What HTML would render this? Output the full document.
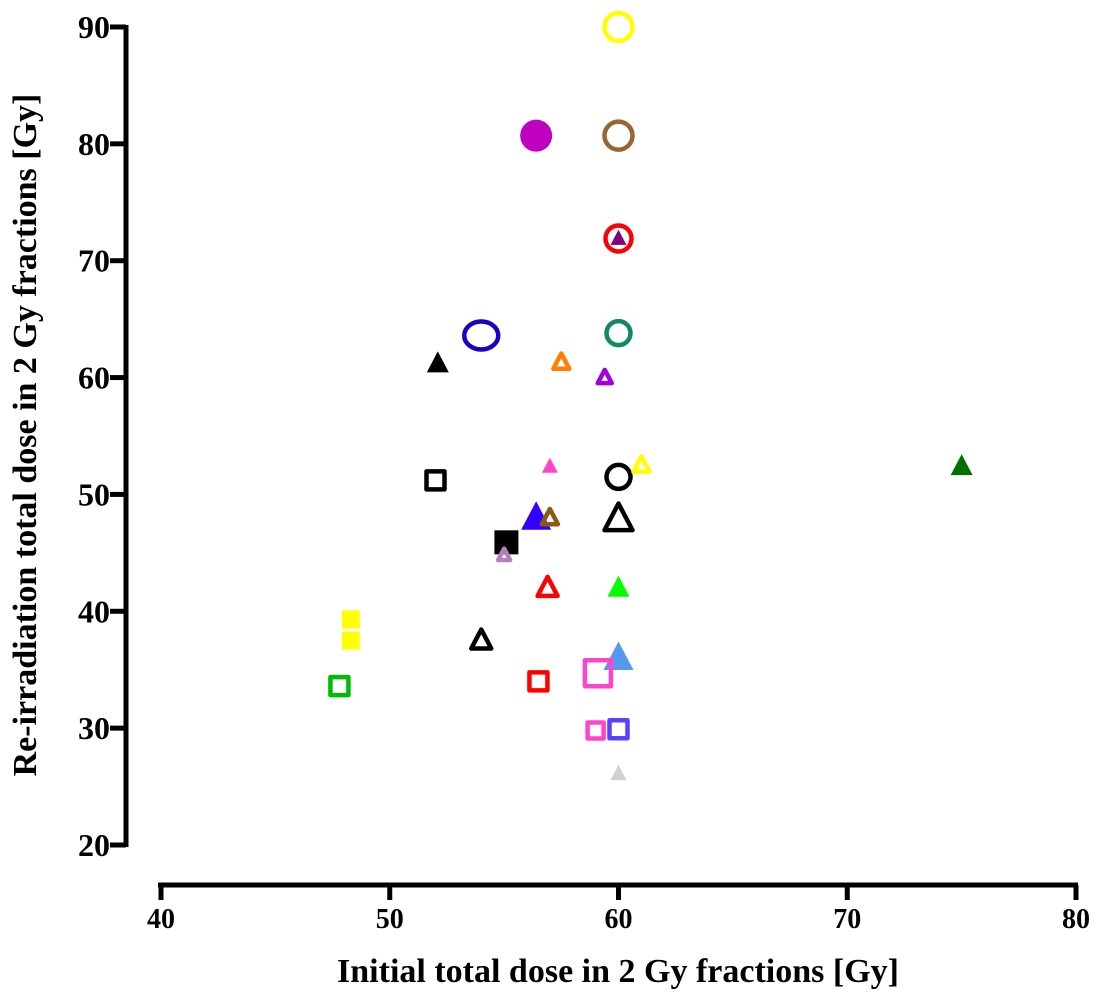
<!DOCTYPE html>
<html><head><meta charset="utf-8"><style>
body{margin:0;background:#fff}
svg{display:block;font-family:"Liberation Serif",serif;font-weight:bold}
</style></head><body>
<svg id="c" width="1099" height="1000"></svg>
<script>
const xValues=[60,56.4,60,60,60,60,54.0,52.1,57.5,59.4,52.0,57.0,60,61.0,75.0,56.4,57.0,60,55.1,55.0,56.9,60,48.3,48.3,54.0,60,59.1,56.5,47.8,59.0,60,60];
const yValues=[90,80.7,80.7,71.9,71.9,63.8,63.6,61.2,61.3,60.0,51.2,52.4,51.5,52.5,52.4,48.0,48.0,47.9,45.9,44.8,42.0,42.0,39.3,37.5,37.5,36.0,34.7,34.0,33.6,29.8,29.9,26.1];
const shapes=["oc","fc","oc","oc","ft","oc","oe","ft","ot","ot","os","ft","oc","ot","ft","ft","ot","ot","fs","ot","ot","ft","fs","fs","ot","ft","os","os","os","os","os","ft"];
const colors=["#ffff00","#c000c0","#996633","#ff0000","#800080","#118866","#1a00c0","#000","#ff8000","#a000e0","#000","#ff44cc","#000","#ffff00","#007000","#3300ff","#8a5a10","#000","#000","#b080c0","#ff0000","#00ff00","#ffff00","#ffff00","#000","#5599ee","#ff44cc","#ff0000","#00bb00","#ff44cc","#5544ff","#d0d0d0"];
const sizes=[16,16,16,15,8,14,17,11,10,9,11,8,14,10,11,15,10,16,12,8,12,11,9,9,12,15,15,11,11,10,11,8];
const xTicks=[40,50,60,70,80];
const yTicks=[20,30,40,50,60,70,80,90];
const X=v=>161+(v-40)*22.875, Y=v=>845-(v-20)*11.686;
const svg=document.getElementById('c'),NS="http://www.w3.org/2000/svg";
function mk(t,a,p){const e=document.createElementNS(NS,t);for(const k in a)e.setAttribute(k,a[k]);(p||svg).appendChild(e);return e;}
let e;
e=mk('line',{x1:126,y1:25,x2:126,y2:847,stroke:'#000','stroke-width':5});


e=mk('line',{x1:158,y1:885,x2:1078,y2:885,stroke:'#000','stroke-width':5});


yTicks.forEach(t=>{
 mk('line',{x1:110,y1:Y(t),x2:126,y2:Y(t),stroke:'#000','stroke-width':5});
 e=mk('text',{x:110,y:Y(t)+11,'text-anchor':'end','font-size':32});e.textContent=t;
 
 
});
xTicks.forEach(t=>{
 mk('line',{x1:X(t),y1:885,x2:X(t),y2:900,stroke:'#000','stroke-width':5});
 e=mk('text',{x:X(t),y:928,'text-anchor':'middle','font-size':28});e.textContent=t;
 
 
});
e=mk('text',{x:618,y:982,'text-anchor':'middle','font-size':34});e.textContent='Initial total dose in 2 Gy fractions [Gy]';


e=mk('text',{x:0,y:0,'text-anchor':'middle','font-size':34,transform:'translate(36,435) rotate(-90)'});e.textContent='Re-irradiation total dose in 2 Gy fractions [Gy]';


xValues.forEach((v,i)=>{
 const cx=X(v),cy=Y(yValues[i]),s=sizes[i],c=colors[i],sh=shapes[i];
 const open=sh[0]==='o';
 const st=open?{fill:'none',stroke:c,'stroke-width':4.5,'stroke-linejoin':'round'}:{fill:c};
 let m;
 if(sh[1]==='c') m=mk('circle',Object.assign({cx,cy,r:open?s-2:s},st));
 else if(sh[1]==='e') m=mk('ellipse',Object.assign({cx,cy,rx:s,ry:s-3},st));
 else if(sh[1]==='s'){const h=open?s-2:s;m=mk('rect',Object.assign({x:cx-h,y:cy-h,width:2*h,height:2*h},st));}
 else {const h=open?s-2:s;m=mk('polygon',Object.assign({points:`${cx},${cy-h*1.1} ${cx-h},${cy+h*0.8} ${cx+h},${cy+h*0.8}`},st));}
 
 
});
</script>
</body></html>
